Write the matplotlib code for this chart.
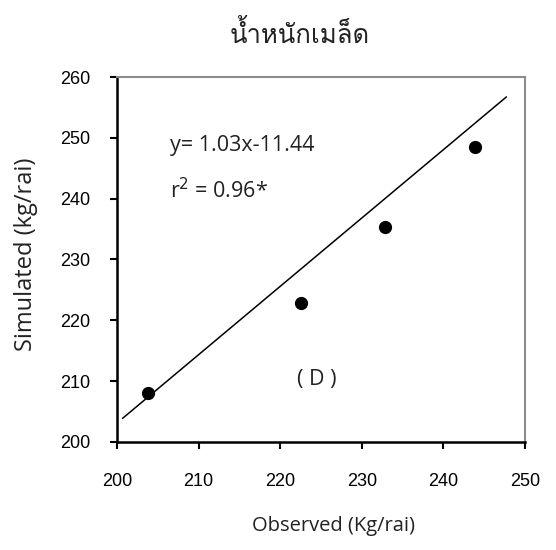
import matplotlib
matplotlib.use('Agg')
import matplotlib.pyplot as plt
from matplotlib import font_manager
from matplotlib.ft2font import FT2Font

# observed vs simulated seed weight (kg/rai)
observed = [203.8, 222.5, 232.8, 243.9]
simulated = [208.1, 222.9, 235.4, 248.5]

# ends of the drawn trend line
line_x = [200.7, 247.7]
line_y = [203.9, 256.7]

title_text = 'น้ำหนักเมล็ด'
eq_text = 'y= 1.03x-11.44'
r2_text = 'r$^2$ = 0.96*'
panel_text = '( D )'

x_ticks = [200, 210, 220, 230, 240, 250]
y_ticks = [200, 210, 220, 230, 240, 250, 260]


def find_thai_font():
    # first installed font that carries Thai glyphs
    for f in font_manager.fontManager.ttflist:
        try:
            cmap = FT2Font(f.fname).get_charmap()
        except Exception:
            continue
        if 0x0E19 in cmap and 0x0E4D in cmap:
            return f.name
    return None


thai = find_thai_font()
text_family = ['Open Sans', thai, 'DejaVu Sans'] if thai else ['Open Sans', 'DejaVu Sans']
tick_family = 'Liberation Sans'

fig = plt.figure(figsize=(5.56, 5.50), dpi=100)
ax = fig.add_axes([0.2104, 0.1964, 0.7338, 0.6636])

ax.plot(line_x, line_y, color='black', lw=1.1)
ax.plot(observed, simulated, 'o', color='black', ms=8.5)

ax.set_xlim(200, 250)
ax.set_ylim(200, 260)
ax.set_xticks(x_ticks)
ax.set_yticks(y_ticks)
ax.tick_params(direction='out', length=5, width=1.5, labelsize=13)
ax.tick_params(axis='x', pad=17)
ax.tick_params(axis='y', pad=14)
for lab in ax.get_xticklabels() + ax.get_yticklabels():
    lab.set_family(tick_family)

for side in ['left', 'bottom']:
    ax.spines[side].set_color('black')
    ax.spines[side].set_linewidth(1.8)
for side in ['top', 'right']:
    ax.spines[side].set_color('#8c8c8c')
    ax.spines[side].set_linewidth(1.5)

fig.text(26 / 556, 1 - 254 / 550, 'Simulated (kg/rai)', family=text_family,
         fontsize=17, rotation=90, ha='center', va='center', color='#222222')
fig.text(334 / 556, 1 - 526 / 550, 'Observed (Kg/rai)', family=text_family,
         fontsize=14.5, ha='center', va='center', color='#222222')
fig.text(300 / 556, 1 - 35 / 550, title_text, family=text_family,
         fontsize=18.5, ha='center', va='center', color='#222222')

ax.text(206.5, 248.8, eq_text, family=text_family, fontsize=15.5, va='center',
        color='#222222')
ax.text(206.5, 241.4, r2_text, family=text_family, fontsize=15.5, va='center',
        color='#222222')
ax.text(224.5, 210.2, panel_text, family=text_family, fontsize=15.5,
        ha='center', va='center', color='#222222')

fig.savefig('out.png', dpi=100)
